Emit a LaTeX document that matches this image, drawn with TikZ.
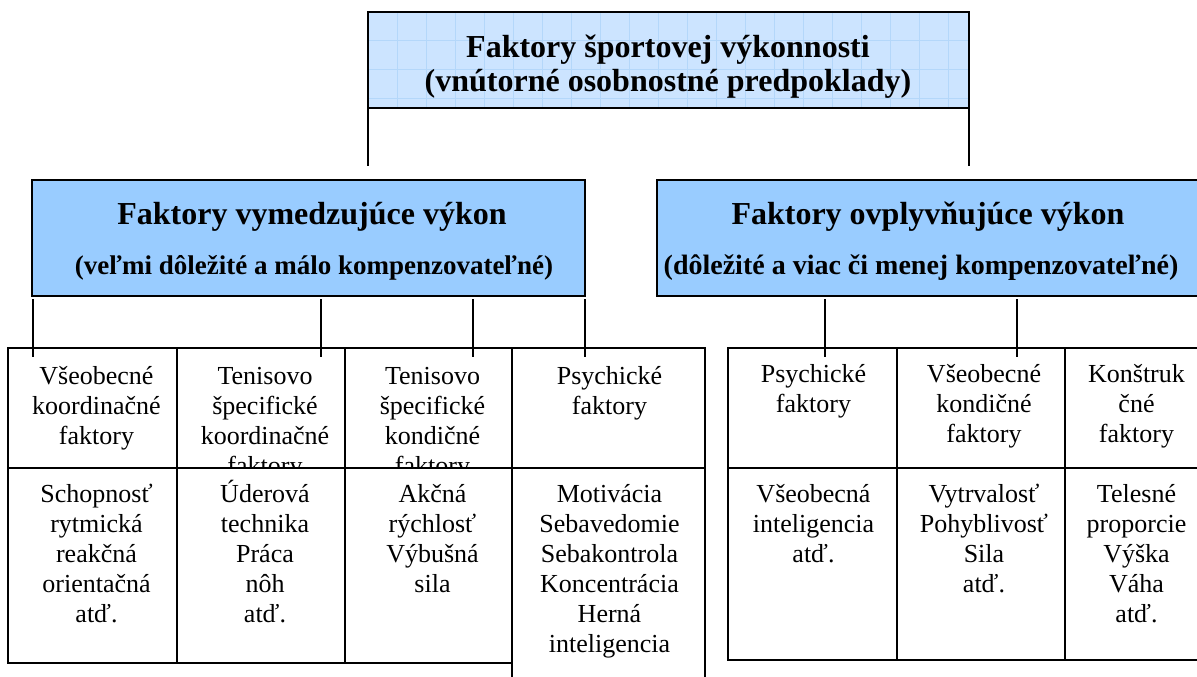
\documentclass[tikz,border=0pt]{standalone}
\usepackage{fontspec}
\setmainfont{Liberation Serif}
\usepackage{xcolor}
\usetikzlibrary{positioning,calc}

\definecolor{headblue}{HTML}{99CCFF}
\definecolor{topblue}{HTML}{CCE4FF}
\definecolor{gridblue}{HTML}{B4D7FA}

\begin{document}
\begin{tikzpicture}[x=1pt,y=-1pt,line width=1.8pt,
  box/.style={draw,anchor=north west,inner sep=0pt,outer sep=0pt},
  cell/.style 2 args={box,minimum width=#1,minimum height=#2},
  txt/.style={anchor=base,text width=180pt,align=center,inner sep=0pt,font=\fontsize{26}{30}\selectfont},
  big/.style={anchor=base,inner sep=0pt,font=\fontsize{32}{32}\selectfont\bfseries},
  sub/.style={anchor=base,inner sep=0pt,font=\fontsize{27}{27}\selectfont\bfseries}]
\useasboundingbox (0,0) rectangle (1197,677);

% top box with its graph paper background
\fill[topblue] (368,12) rectangle (969,108);
\foreach \gx in {397,426,...,955} \draw[gridblue,line width=0.7pt] (\gx,13) -- (\gx,107);
\foreach \gy in {40,69,98} \draw[gridblue,line width=0.7pt] (369,\gy) -- (968,\gy);
\node[box,minimum width=601,minimum height=96] (top) at (368,12) {};
\node[big] (toptitle) at (668,58) {Faktory športovej výkonnosti};
\node[big] (topsub) at (668,92) {(vnútorné osobnostné predpoklady)};
\coordinate (topL) at (368,166);
\coordinate (topR) at (969,166);
\draw (top.south west) -- (topL);
\draw (top.south east) -- (topR);

% the two groups of factors
\node[box,fill=headblue,minimum width=553,minimum height=116] (lh) at (32,180) {};
\node[big] (lhtitle) at (312,224) {Faktory vymedzujúce výkon};
\node[sub] (lhsub) at (314,274) {(veľmi dôležité a málo kompenzovateľné)};

\node[box,fill=headblue,minimum width=545,minimum height=116] (rh) at (657,180) {};
\node[big] (rhtitle) at (928,224) {Faktory ovplyvňujúce výkon};
\node[sub,font=\fontsize{28}{28}\selectfont\bfseries] (rhsub) at (921,274) {(dôležité a viac či menej kompenzovateľné)};

% left table
\node[cell={169}{120}] (v1) at (8,348) {};
\node[cell={168}{120}] (v2) at (177,348) {};
\node[cell={167}{120}] (v3) at (345,348) {};
\node[cell={193}{120}] (v4) at (512,348) {};
\node[cell={169}{195}] (v1b) at (8,468) {};
\node[cell={168}{195}] (v2b) at (177,468) {};
\node[cell={167}{195}] (v3b) at (345,468) {};
\node[cell={193}{240}] (v4b) at (512,468) {};

% right table
\node[cell={169}{120}] (o1) at (728,348) {};
\node[cell={168}{120}] (o2) at (897,348) {};
\node[cell={137}{120}] (o3) at (1065,348) {};
\node[cell={169}{192}] (o1b) at (728,468) {};
\node[cell={168}{192}] (o2b) at (897,468) {};
\node[cell={137}{192}] (o3b) at (1065,468) {};

% connectors, each ending a little inside its cell
\coordinate (fv1) at (33,357);
\coordinate (fv2) at (321,357);
\coordinate (fv3) at (473,357);
\coordinate (fv4) at (585,357);
\coordinate (fo1) at (825,357);
\coordinate (fo2) at (1017,357);
\foreach \f in {fv1,fv2,fv3,fv4} \draw (lh.south -| \f) ++(0,3) -- (\f);
\foreach \f in {fo1,fo2} \draw (rh.south -| \f) ++(0,3) -- (\f);

% header row texts, cut off at the row line
\begin{scope}
\clip (v1.north west) rectangle (o3.south east);
\node[txt] (tv1) at ($(v1.north)+(4,36)$) {Všeobecné\\koordinačné\\faktory};
\node[txt] (tv2) at ($(v2.north)+(4,36)$) {Tenisovo\\špecifické\\koordinačné\\faktory};
\node[txt] (tv3) at ($(v3.north)+(4,36)$) {Tenisovo\\špecifické\\kondičné\\faktory};
\node[txt] (tv4) at ($(v4.north)+(1,36)$) {Psychické\\faktory};
\node[txt] (to1) at ($(o1.north)+(1,34)$) {Psychické\\faktory};
\node[txt] (to2) at ($(o2.north)+(3,34)$) {Všeobecné\\kondičné\\faktory};
\node[txt] (to3) at ($(o3.north)+(3,34)$) {Konštruk\\čné\\faktory};
\end{scope}

% lower row texts
\node[txt] (tv1b) at ($(v1b.north)+(4,34)$) {Schopnosť\\rytmická\\reakčná\\orientačná\\atď.};
\node[txt] (tv2b) at ($(v2b.north)+(4,34)$) {Úderová\\technika\\Práca\\nôh\\atď.};
\node[txt] (tv3b) at ($(v3b.north)+(4,34)$) {Akčná\\rýchlosť\\Výbušná\\sila};
\node[txt] (tv4b) at ($(v4b.north)+(1,34)$) {Motivácia\\Sebavedomie\\Sebakontrola\\Koncentrácia\\Herná\\inteligencia};
\node[txt] (to1b) at ($(o1b.north)+(1,34)$) {Všeobecná\\inteligencia\\atď.};
\node[txt] (to2b) at ($(o2b.north)+(3,34)$) {Vytrvalosť\\Pohyblivosť\\Sila\\atď.};
\node[txt] (to3b) at ($(o3b.north)+(3,34)$) {Telesné\\proporcie\\Výška\\Váha\\atď.};
\end{tikzpicture}
\end{document}
